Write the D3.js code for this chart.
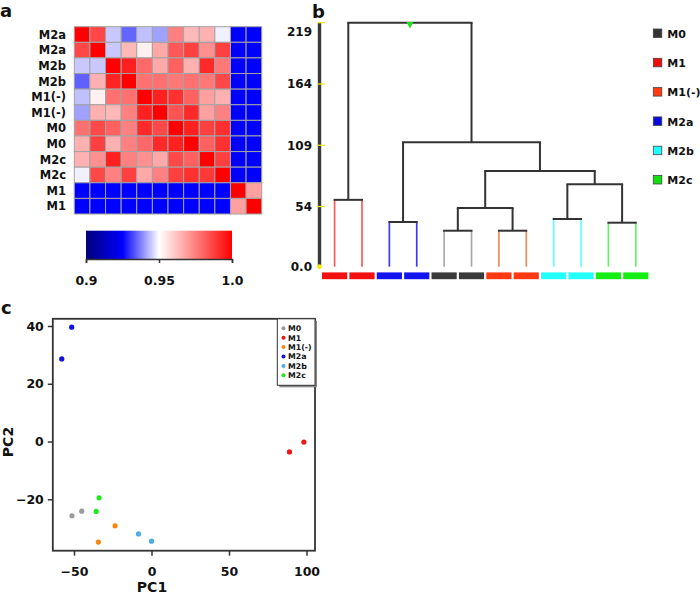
<!DOCTYPE html>
<html><head><meta charset="utf-8">
<script src="https://cdn.jsdelivr.net/npm/d3@7"></script>
<style>
body{margin:0;background:#fff}
svg{display:block}
text{font-family:"DejaVu Sans",sans-serif;font-weight:bold;fill:#111}
</style>
</head><body>
<svg id="chart" width="700" height="595"></svg>
<script>
// ---------- DATA ----------
// Panel a: correlation heatmap
const heatLabels = ["M2a","M2a","M2b","M2b","M1(-)","M1(-)","M0","M0","M2c","M2c","M1","M1"];
const heatValues = [
  [1.000,0.986,0.9446,0.9348,0.9438,0.9407,0.975,0.964,0.9655,0.9485,0.925,0.925],
  [0.986,1.000,0.9446,0.964,0.9529,0.967,0.983,0.9875,0.9718,0.9875,0.925,0.925],
  [0.9446,0.9446,1.000,0.994,0.9796,0.967,0.981,0.9655,0.992,0.9765,0.925,0.925],
  [0.9344,0.9655,0.993,1.000,0.978,0.978,0.9765,0.978,0.9765,0.9859,0.925,0.925],
  [0.9438,0.9529,0.978,0.978,1.000,0.9937,0.9906,0.981,0.9686,0.9655,0.925,0.925],
  [0.9407,0.9655,0.964,0.975,0.9937,1.000,0.984,0.992,0.9686,0.975,0.925,0.925],
  [0.978,0.9859,0.981,0.975,0.992,0.9859,1.000,0.9937,0.9875,0.9906,0.925,0.925],
  [0.9655,0.9875,0.9655,0.975,0.9796,0.992,0.9937,1.000,0.981,0.9906,0.925,0.925],
  [0.9655,0.9718,0.9937,0.975,0.9718,0.967,0.9859,0.981,1.000,0.9875,0.925,0.925],
  [0.9485,0.9859,0.975,0.9875,0.967,0.975,0.9875,0.9906,0.989,1.000,0.925,0.925],
  [0.925,0.925,0.925,0.925,0.925,0.925,0.925,0.925,0.925,0.925,1.000,0.9686],
  [0.925,0.925,0.925,0.925,0.925,0.925,0.925,0.925,0.925,0.925,0.9686,1.000]
];
const colorbarTicks = [0.9, 0.95, 1.0];
const colorbarTickLabels = ["0.9","0.95","1.0"];

// Panel b: dendrogram
const leafGroups = ["M1","M1","M2a","M2a","M0","M0","M1(-)","M1(-)","M2b","M2b","M2c","M2c"];
const dendroTree = {h:219, children:[
  {h:60, children:[{leaf:0},{leaf:1}]},
  {h:111.7, children:[
    {h:40.1, children:[{leaf:2},{leaf:3}]},
    {h:85.9, children:[
      {h:52.7, children:[
        {h:32.3, children:[{leaf:4},{leaf:5}]},
        {h:32.3, children:[{leaf:6},{leaf:7}]}
      ]},
      {h:74, children:[
        {h:42.8, children:[{leaf:8},{leaf:9}]},
        {h:39.5, children:[{leaf:10},{leaf:11}]}
      ]}
    ]}
  ]}
]};
const dendroTicks = [0, 54, 109, 164, 219];
const dendroTickLabels = ["0.0","54","109","164","219"];
const legendGroups = ["M0","M1","M1(-)","M2a","M2b","M2c"];

// Panel c: PCA
const pcaGroups = ["M0","M0","M1","M1","M1(-)","M1(-)","M2a","M2a","M2b","M2b","M2c","M2c"];
const pc1 = [-51.3,-45.0,89.0,98.3,-23.5,-34.3,-51.5,-57.9,-8.4,0.0,-33.8,-35.7];
const pc2 = [-25.7,-24.1,-3.6,-0.2,-29.2,-34.8,39.6,28.6,-32.0,-34.5,-19.5,-24.2];
const pcaXTicks = [-50, 0, 50, 100];
const pcaYTicks = [-20, 0, 20, 40];

// ---------- STYLES ----------
const barColor = {"M1":"#f21010","M2a":"#1414ee","M0":"#3a3a3a","M1(-)":"#ff3a12","M2b":"#22ffff","M2c":"#14ee14"};
const branchColor = {"M1":"#ff5a5a","M2a":"#3a3aff","M0":"#a8a8a8","M1(-)":"#f58a55","M2b":"#66ffff","M2c":"#66ee66"};
const legendColor = {"M0":"#333333","M1":"#ee0a0a","M1(-)":"#ff3a10","M2a":"#0a0ad8","M2b":"#20ffff","M2c":"#10e010"};
const pcaColor = {"M0":"#9a9a9a","M1":"#f01414","M1(-)":"#f7860f","M2a":"#1212dd","M2b":"#4aaee4","M2c":"#1eea1e"};

const svg = d3.select("#chart");

// ---------- PANEL A ----------
svg.append("text").attr("x",0).attr("y",17).style("font-size","18px").text("a");
const hx = d3.scaleBand().domain(d3.range(12)).range([74.3, 261.7]);
const hy = d3.scaleBand().domain(d3.range(12)).range([26.7, 214]);
const heatColor = d3.scaleLinear()
  .domain([0.9, 0.925, 0.95, 1.0])
  .range(["#00007a","#0000ff","#ffffff","#ff0000"]).clamp(true);

const cells = [];
heatValues.forEach((row,i)=>row.forEach((v,j)=>cells.push({i,j,v})));
svg.append("g").selectAll("rect").data(cells).join("rect")
  .attr("x",d=>hx(d.j)).attr("y",d=>hy(d.i))
  .attr("width",hx.bandwidth()).attr("height",hy.bandwidth())
  .attr("fill",d=>heatColor(d.v))
  .attr("stroke","#a4a4a4").attr("stroke-width",1);

svg.append("g").selectAll("text").data(heatLabels).join("text")
  .attr("x",66).attr("y",(d,i)=>hy(i)+hy.bandwidth()/2+4.2)
  .attr("text-anchor","end").style("font-size","11.5px").text(d=>d);

// colorbar
const cbx = d3.scaleLinear().domain([0.9,1.0]).range([86,232]);
const defs = svg.append("defs");
const grad = defs.append("linearGradient").attr("id","cbgrad");
d3.range(0,1.0001,0.05).forEach(t=>{
  grad.append("stop").attr("offset",(t*100)+"%").attr("stop-color",heatColor(0.9+t*0.1));
});
svg.append("rect").attr("x",86).attr("y",230.7).attr("width",146).attr("height",28.3).attr("fill","url(#cbgrad)");
const cbAxis = svg.append("g").attr("transform","translate(0,259)")
  .call(d3.axisBottom(cbx).tickValues(colorbarTicks).tickSize(4).tickFormat((d,i)=>colorbarTickLabels[i]));
cbAxis.select(".domain").attr("stroke","#333").attr("stroke-width",1.5);
cbAxis.selectAll(".tick line").attr("stroke","#333").attr("stroke-width",1.5);
cbAxis.selectAll(".tick text").attr("y",17).style("font-size","12.5px").style("font-family","DejaVu Sans").style("font-weight","bold").attr("fill","#111");

// ---------- PANEL B ----------
svg.append("text").attr("x",312).attr("y",18).style("font-size","18px").text("b");
const dy = d3.scaleLinear().domain([0,219]).range([266.7,22.7]);
const root = d3.hierarchy(dendroTree);
d3.cluster().separation(()=>1).size([1, 1])(root);
const leafX = d3.scaleLinear().domain(d3.extent(root.leaves(), d=>d.x)).range([334.6, 635.8]);
root.each(n=>{ n.px = leafX(n.x); n.hy = n.children ? n.data.h : 0; });

// axis
svg.append("line").attr("x1",319.5).attr("x2",319.5).attr("y1",dy(219)).attr("y2",dy(0))
  .attr("stroke","#3a3a3a").attr("stroke-width",3.4);
svg.append("g").selectAll("line").data(dendroTicks.slice(1)).join("line")
  .attr("x1",317.5).attr("x2",325).attr("y1",d=>dy(d)).attr("y2",d=>dy(d))
  .attr("stroke","#f2f000").attr("stroke-width",1.2);
svg.append("circle").attr("cx",319.5).attr("cy",dy(0)).attr("r",2.4).attr("fill","#f2f000");
svg.append("g").selectAll("text").data(dendroTicks).join("text")
  .attr("x",312).attr("y",(d,i)=>dy(d)+4.5+(d===219?9:0))
  .attr("text-anchor","end").style("font-size","12px").text((d,i)=>dendroTickLabels[i]);

const gD = svg.append("g").attr("fill","none");
root.descendants().filter(n=>n.children).forEach(n=>{
  const cs = n.children;
  cs.forEach(c=>{
    const isLeaf = !c.children;
    gD.append("line").attr("x1",c.px).attr("x2",c.px)
      .attr("y1",dy(n.hy)).attr("y2",dy(c.hy))
      .attr("stroke", isLeaf ? branchColor[leafGroups[c.data.leaf]] : "#333")
      .attr("stroke-width", isLeaf ? 1.7 : 2);
  });
  gD.append("line").attr("x1",cs[0].px-1).attr("x2",cs[cs.length-1].px+1)
    .attr("y1",dy(n.hy)).attr("y2",dy(n.hy)).attr("stroke","#333").attr("stroke-width",2);
});
// leaf colour bars
svg.append("g").selectAll("rect").data(root.leaves()).join("rect")
  .attr("x",d=>d.px-12.6).attr("y",272.4).attr("width",25.2).attr("height",6.8)
  .attr("fill",d=>barColor[leafGroups[d.data.leaf]]);
// root marker
svg.append("path").attr("d",`M${root.px-3.5},22 L${root.px+3.5},22 L${root.px},28.5 Z`).attr("fill","#22e022");

// legend b
const lgB = svg.append("g").selectAll("g").data(legendGroups).join("g")
  .attr("transform",(d,i)=>`translate(653.3,${33.3+i*29.3})`);
lgB.append("rect").attr("x",0).attr("y",-4.3).attr("width",8.5).attr("height",8.5)
  .attr("fill",d=>legendColor[d]).attr("stroke","#444").attr("stroke-width",0.8);
lgB.append("text").attr("x",14).attr("y",4.4).style("font-size","11px").text(d=>d);

// ---------- PANEL C ----------
svg.append("text").attr("x",1).attr("y",314).style("font-size","18px").text("c");
const px = d3.scaleLinear().domain([-50,100]).range([74,306.5]);
const py = d3.scaleLinear().domain([-20,40]).range([499.3,326]);
const box = {l:52.8, r:315, t:318.8, b:550.7};

svg.append("rect").attr("x",box.l).attr("y",box.t).attr("width",box.r-box.l).attr("height",box.b-box.t)
  .attr("fill","none").attr("stroke","#333").attr("stroke-width",1.8);

const xAx = svg.append("g").attr("transform",`translate(0,${box.b})`)
  .call(d3.axisBottom(px).tickValues(pcaXTicks).tickSize(5).tickFormat(d3.format("d")));
xAx.select(".domain").remove();
xAx.selectAll(".tick line").attr("stroke","#333").attr("stroke-width",1.5);
xAx.selectAll(".tick text").attr("y",16).style("font-size","12.5px").style("font-family","DejaVu Sans").style("font-weight","bold").attr("fill","#111");

const yAx = svg.append("g").attr("transform",`translate(${box.l},0)`)
  .call(d3.axisLeft(py).tickValues(pcaYTicks).tickSize(5).tickFormat(d3.format("d")));
yAx.select(".domain").remove();
yAx.selectAll(".tick line").attr("stroke","#333").attr("stroke-width",1.5);
yAx.selectAll(".tick text").attr("x",-9).style("font-size","12.5px").style("font-family","DejaVu Sans").style("font-weight","bold").attr("fill","#111");

svg.append("text").attr("x",152).attr("y",591.5).attr("text-anchor","middle").style("font-size","14px").text("PC1");
svg.append("text").attr("transform","translate(13,442) rotate(-90)").attr("text-anchor","middle").style("font-size","14px").text("PC2");

svg.append("g").selectAll("circle").data(pc1.map((v,i)=>({x:v,y:pc2[i],g:pcaGroups[i]}))).join("circle")
  .attr("cx",d=>px(d.x)).attr("cy",d=>py(d.y)).attr("r",2.6).attr("fill",d=>pcaColor[d.g]);

// legend c
svg.append("rect").attr("x",279.3).attr("y",box.t+2).attr("width",box.r-277.3).attr("height",66.5).attr("fill","#888");
svg.append("rect").attr("x",277.3).attr("y",box.t).attr("width",box.r-277.3).attr("height",66.5)
  .attr("fill","#fff").attr("stroke","#333").attr("stroke-width",1);
const lgC = svg.append("g").selectAll("g").data(legendGroups).join("g")
  .attr("transform",(d,i)=>`translate(283.5,${328.3+i*9.4})`);
lgC.append("circle").attr("r",2).attr("fill",d=>pcaColor[d]);
lgC.append("text").attr("x",4.5).attr("y",2.8).style("font-size","7.8px").text(d=>d);
</script>
</body></html>
